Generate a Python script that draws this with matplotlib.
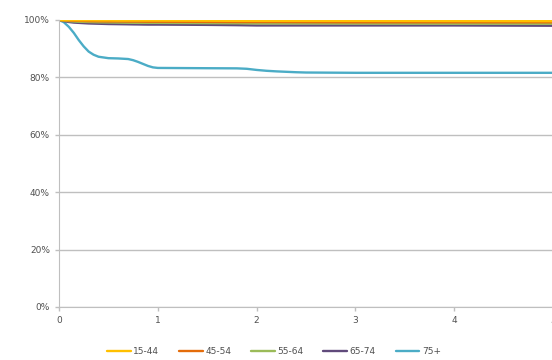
import matplotlib
matplotlib.use("Agg")
import matplotlib.pyplot as plt
from matplotlib.ticker import FuncFormatter

years = [0, 0.05, 0.1, 0.15, 0.2, 0.25, 0.3, 0.35, 0.4, 0.5, 0.6, 0.7, 0.75, 0.8, 0.85,
         0.9, 0.95, 1.0, 1.5, 1.8, 1.9, 2.0, 2.1, 2.2, 2.3, 2.4, 2.5, 3.0, 4.0, 5.0]
s_15_44 = [100, 99.97, 99.95, 99.93, 99.9, 99.9, 99.9, 99.88, 99.85, 99.85, 99.8, 99.8, 99.8, 99.8, 99.8,
           99.8, 99.8, 99.8, 99.75, 99.7, 99.7, 99.7, 99.7, 99.7, 99.7, 99.7, 99.7, 99.7, 99.65, 99.6]
s_45_54 = [100, 99.9, 99.8, 99.75, 99.7, 99.65, 99.6, 99.57, 99.55, 99.5, 99.5, 99.45, 99.45, 99.45, 99.42,
           99.4, 99.4, 99.4, 99.35, 99.3, 99.3, 99.3, 99.3, 99.3, 99.28, 99.27, 99.25, 99.2, 99.2, 99.2]
s_55_64 = [100, 99.8, 99.6, 99.5, 99.4, 99.35, 99.3, 99.25, 99.2, 99.15, 99.1, 99.05, 99.02, 99.0, 99.0,
           99.0, 99.0, 99.0, 98.9, 98.85, 98.82, 98.8, 98.8, 98.8, 98.8, 98.8, 98.8, 98.75, 98.7, 98.7]
s_65_74 = [100, 99.6, 99.3, 99.1, 99.0, 98.9, 98.8, 98.75, 98.7, 98.6, 98.55, 98.5, 98.47, 98.45, 98.42,
           98.4, 98.4, 98.4, 98.3, 98.2, 98.15, 98.1, 98.1, 98.1, 98.1, 98.1, 98.1, 98.1, 98.1, 98.0]
s_75p = [100, 99.2, 97.6, 95.5, 93.0, 90.8, 89.0, 87.9, 87.2, 86.7, 86.6, 86.4, 86.0, 85.4, 84.7,
         84.0, 83.5, 83.3, 83.2, 83.15, 83.0, 82.6, 82.3, 82.1, 81.95, 81.8, 81.7, 81.6, 81.6, 81.6]

labels = ["15-44", "45-54", "55-64", "65-74", "75+"]
series = [s_15_44, s_45_54, s_55_64, s_65_74, s_75p]
colors = ["#FFC000", "#E46C0A", "#9BBB59", "#604A7B", "#4BACC6"]

fig = plt.figure(figsize=(5.52, 3.6), dpi=100)
ax = fig.add_axes([59/552, 1-307/360, 1-59/552+0.002, (307-20)/360])

for i in [4, 3, 2, 1, 0]:
    ax.plot(years, series[i], color=colors[i], lw=1.7, label=labels[i],
            solid_joinstyle="round", solid_capstyle="round")

ax.set_xlim(0, 5)
ax.set_ylim(0, 100)
ax.set_yticks([0, 20, 40, 60, 80, 100])
ax.set_xticks([0, 1, 2, 3, 4, 5])
ax.yaxis.set_major_formatter(FuncFormatter(lambda v, p: f"{int(v)}%"))
ax.grid(axis="y", color="#BFBFBF", lw=1.0)
ax.set_axisbelow(True)
for sp in ["top", "right"]:
    ax.spines[sp].set_visible(False)
ax.spines["left"].set_color("#BFBFBF")
ax.spines["bottom"].set_color("#BFBFBF")
ax.tick_params(axis="both", colors="#BFBFBF", labelcolor="#505050", labelsize=6.5, length=3, width=1)

handles, labs = ax.get_legend_handles_labels()
hmap = dict(zip(labs, handles))
leg = fig.legend([hmap[l] for l in labels], labels, loc="center", bbox_to_anchor=(274/552, 1-352/360),
                 ncol=5, frameon=False, fontsize=6.5, handlelength=2.6, handletextpad=0.3, columnspacing=2.2)
for t in leg.get_texts():
    t.set_color("#505050")

fig.savefig("out.png", dpi=100)
